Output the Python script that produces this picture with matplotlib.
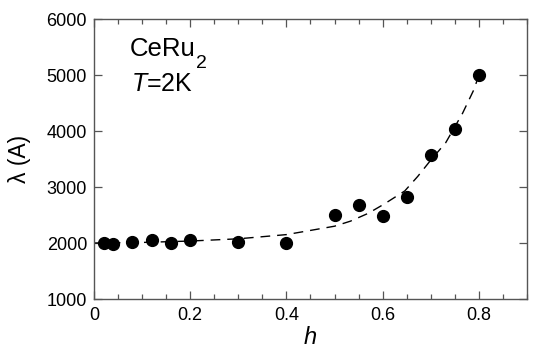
import matplotlib
matplotlib.use("Agg")
import matplotlib.pyplot as plt
from matplotlib.ticker import MultipleLocator

plt.rcParams['font.family'] = ['Liberation Sans', 'DejaVu Sans']
plt.rcParams['mathtext.fontset'] = 'custom'
plt.rcParams['mathtext.it'] = 'Liberation Sans:italic'
plt.rcParams['mathtext.rm'] = 'Liberation Sans'

# measured data
h_data = [0.02, 0.04, 0.08, 0.12, 0.16, 0.20, 0.30, 0.40, 0.50, 0.55, 0.60, 0.65, 0.70, 0.75, 0.80]
lam_data = [2000, 1990, 2010, 2050, 2000, 2050, 2010, 1995, 2495, 2680, 2490, 2830, 3575, 4035, 4995]

# dashed fit curve
h_fit = [0.0, 0.1, 0.2, 0.3, 0.4, 0.5, 0.533, 0.57, 0.604, 0.646, 0.673, 0.70, 0.731, 0.766, 0.79, 0.80]
lam_fit = [2000, 2010, 2035, 2075, 2150, 2300, 2390, 2530, 2700, 2930, 3190, 3480, 3790, 4315, 4745, 5000]

x_ticks = [0, 0.2, 0.4, 0.6, 0.8]
x_ticklabels = ['0', '0.2', '0.4', '0.6', '0.8']
y_ticks = [1000, 2000, 3000, 4000, 5000, 6000]

fig = plt.figure(figsize=(5.39, 3.56), dpi=100)
ax = fig.add_axes([0.1744, 0.1601, 0.8033, 0.7865])

ax.plot(h_fit, lam_fit, color='black', lw=1.0, ls=(0, (7, 5)), zorder=2)
ax.plot(h_data, lam_data, 'o', color='black', markersize=8.5, zorder=3)

ax.set_xlim(0, 0.9)
ax.set_ylim(1000, 6000)
ax.set_xticks(x_ticks)
ax.set_xticklabels(x_ticklabels)
ax.set_yticks(y_ticks)
ax.xaxis.set_minor_locator(MultipleLocator(0.05))

for s in ax.spines.values():
    s.set_color('#555555')
    s.set_linewidth(1.0)
ax.tick_params(which='both', direction='in', top=True, right=True, color='#555555',
               labelsize=13, width=0.9)
ax.tick_params(which='major', length=5.5)
ax.tick_params(which='minor', length=3.5)
ax.tick_params(axis='x', pad=6)
ax.tick_params(axis='y', pad=5)

ax.set_xlabel('h', fontsize=17, style='italic', labelpad=1)
ax.set_ylabel('λ (A)', fontsize=16.5, labelpad=11)

ax.text(0.142, 5340, 'CeRu', fontsize=18.5, ha='center', va='baseline')
ax.annotate('2', xy=(0.142, 5340), xytext=(24, -9), textcoords='offset points',
            fontsize=14, ha='left', va='baseline')
ax.text(0.142, 4714, r'$\mathit{T}$=2K', fontsize=18, ha='center', va='baseline')

fig.savefig('out.png', dpi=100)
